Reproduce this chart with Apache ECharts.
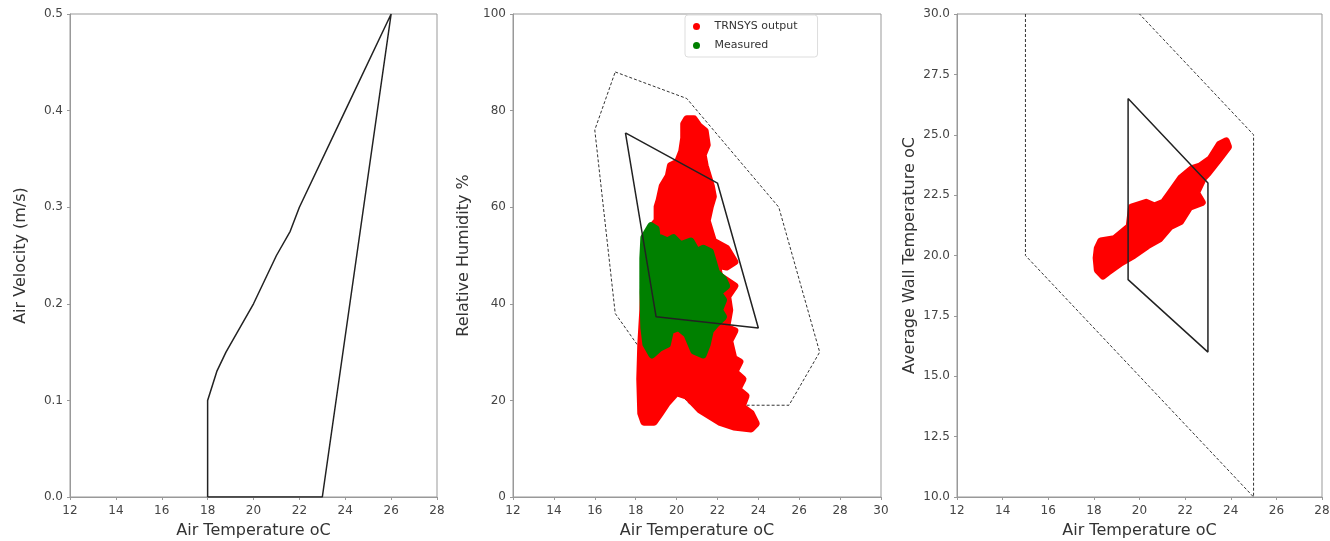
<!DOCTYPE html>
<html>
<head>
<meta charset="utf-8">
<script src="https://cdn.jsdelivr.net/npm/echarts@6/dist/echarts.min.js"></script>
<style>
  html, body { margin: 0; padding: 0; background: #fff; }
  #chart { width: 1330px; height: 541px; }
</style>
</head>
<body>
<div id="chart"></div>
<script>
// panel 1 - air velocity vs air temperature zone
const velZone = [[18, 0], [18, 0.1], [18.4, 0.13], [18.8, 0.15], [20, 0.2], [21, 0.25], [21.6, 0.275], [22, 0.3], [24, 0.4], [26, 0.5], [23, 0], [18, 0]]

// panel 2 - relative humidity vs air temperature
const rhOuter = [[17, 88], [20.5, 82.5], [25, 60], [27, 30], [25.5, 19], [20.7, 19], [18.5, 29], [17, 38], [16, 76], [17, 88]]
const rhInner = [[17.5, 75.4], [22, 65], [24, 35], [19, 37.3], [17.5, 75.4]]
// outline of the dense TRNSYS cloud
const trnsysRh = [[20.35, 77.2], [20.5, 78.3], [20.85, 78.3], [21.1, 76.8], [21.4, 75.8], [21.5, 72.9], [21.3, 70.8], [21.4, 68.6],
  [21.5, 67.2], [21.7, 64.4], [21.8, 62.2], [21.65, 60.1], [21.5, 57.2], [21.7, 54.4], [21.8, 53], [22.45, 51.5], [22.85, 48.7],
  [22.45, 47.6], [22, 48], [22.1, 45.8], [22.85, 43.7], [22.5, 41.5], [22.6, 38.7], [22.45, 35.1], [22.85, 34.4], [22.6, 32.3],
  [22.8, 28.7], [23.1, 28], [22.85, 25.9], [23.25, 24.4], [23, 22.3], [23.4, 20.9], [23.2, 18.7], [23.65, 17.3], [23.9, 15.2],
  [23.65, 14.1], [22.8, 14.5], [22.1, 15.5], [21.15, 18], [20.5, 20.9], [20, 21.6], [19.55, 19.5], [19.2, 17.3], [18.9, 15.5],
  [18.4, 15.5], [18.25, 17.3], [18.2, 24.4], [18.25, 31.6], [18.35, 38.7], [18.4, 45.8], [18.5, 51.5], [18.75, 55.8],
  [19.05, 57.2], [19.05, 60.1], [19.15, 61.5], [19.3, 64.4], [19.6, 66.5], [19.7, 68.6], [20.05, 69.35], [20.25, 71.5], [20.35, 74.3]]
// outline of the measured cloud
const measuredRh = [[18.75, 56.2], [19, 55.5], [19.05, 53.7], [19.2, 53.7], [19.55, 53], [19.85, 53.7], [20.2, 52.2], [20.7, 53],
  [21, 50.8], [21.3, 51.5], [21.65, 50.8], [21.8, 48.7], [21.95, 46.5], [22.3, 45.1], [22.45, 43.7], [22.05, 42.3], [22.3, 40.8],
  [22.1, 38.7], [22.3, 37.3], [21.95, 35.9], [21.65, 34.4], [21.5, 31.6], [21.3, 29.4], [20.85, 30.2], [20.5, 33.7], [20.1, 35.1],
  [19.7, 34.4], [19.55, 31.6], [19.2, 30.9], [18.8, 29.4], [18.5, 31.6], [18.4, 35.1], [18.35, 42.3], [18.35, 49.4], [18.4, 53.7]]

// panel 3 - wall temperature vs air temperature
const wallOuter = [[15, 30], [15, 20], [25, 10], [25, 25], [20, 30]]
const wallInner = [[19.5, 26.5], [19.5, 19], [23, 16], [23, 23], [19.5, 26.5]]
const trnsysWall = [[18.15, 20.3], [18.3, 20.6], [18.9, 20.7], [19.55, 21.2], [19.65, 22.0], [20.3, 22.2], [20.65, 22.05],
  [21.05, 22.2], [21.35, 22.6], [21.8, 23.2], [22.3, 23.6], [22.65, 23.7], [23.1, 24.0], [23.5, 24.6], [23.8, 24.75],
  [23.9, 24.5], [23.5, 24.0], [23.0, 23.4], [22.8, 23.2], [22.5, 22.6], [22.75, 22.2], [22.2, 22.0], [21.8, 21.4],
  [21.35, 21.2], [20.9, 20.7], [20.35, 20.4], [19.75, 20.0], [19.2, 19.7], [18.6, 19.3], [18.4, 19.15], [18.15, 19.4], [18.1, 19.9]]

const FONT = 'DejaVu Sans'

function xAxis(idx, max) {
  return {
    gridIndex: idx,
    type: 'value',
    min: 12,
    max: max,
    interval: 2,
    name: 'Air Temperature oC',
    nameLocation: 'middle',
    nameGap: 26,
    nameTextStyle: { fontFamily: FONT, fontSize: 16, color: '#333' },
    axisLine: { onZero: false, lineStyle: { color: '#999' } },
    axisTick: { length: 3, lineStyle: { color: '#999' } },
    axisLabel: { fontFamily: FONT, fontSize: 12, color: '#444', margin: 8 },
    splitLine: { show: false }
  }
}

function yAxis(idx, opts) {
  return Object.assign({
    gridIndex: idx,
    type: 'value',
    nameLocation: 'middle',
    nameTextStyle: { fontFamily: FONT, fontSize: 16, color: '#333' },
    axisLine: { onZero: false, lineStyle: { color: '#999' } },
    axisTick: { length: 3, lineStyle: { color: '#999' } },
    axisLabel: { fontFamily: FONT, fontSize: 12, color: '#444', margin: 7 },
    splitLine: { show: false }
  }, opts)
}

function lineSeries(idx, data, dashed, z) {
  return {
    type: 'line',
    xAxisIndex: idx,
    yAxisIndex: idx,
    data: data,
    symbol: 'none',
    z: z,
    silent: true,
    lineStyle: dashed
      ? { color: '#333', width: 1, type: [3, 2] }
      : { color: '#222', width: 1.5 }
  }
}

function cloudSeries(idx, name, data, color, z) {
  return {
    type: 'custom',
    name: name,
    xAxisIndex: idx,
    yAxisIndex: idx,
    data: data,
    z: z,
    itemStyle: { color: color },
    renderItem(params, api) {
      if (params.dataIndex !== 0) return null
      const pts = data.map(p => api.coord(p))
      return {
        type: 'polygon',
        shape: { points: pts },
        style: { fill: color, stroke: color, lineWidth: 7, lineJoin: 'round' }
      }
    }
  }
}

const chart = echarts.init(document.getElementById('chart'))
const gridBase = { top: 14, height: 483, show: true, borderColor: '#999', borderWidth: 1, backgroundColor: '#fff', outerBoundsMode: 'none' }

chart.setOption({
  animation: false,
  backgroundColor: '#fff',
  grid: [
    Object.assign({ left: 70, width: 367 }, gridBase),
    Object.assign({ left: 513, width: 368 }, gridBase),
    Object.assign({ left: 957, width: 365 }, gridBase)
  ],
  legend: {
    data: [{ name: 'TRNSYS output', icon: 'circle' }, { name: 'Measured', icon: 'circle' }],
    orient: 'vertical',
    left: 685,
    top: 15,
    itemWidth: 26,
    itemHeight: 7,
    itemGap: 8,
    padding: [6, 20, 6, 8],
    borderColor: '#ddd',
    borderWidth: 1,
    borderRadius: 3,
    backgroundColor: '#fff',
    textStyle: { fontFamily: FONT, fontSize: 11, color: '#333' }
  },
  xAxis: [xAxis(0, 28), xAxis(1, 30), xAxis(2, 28)],
  yAxis: [
    yAxis(0, { min: 0, max: 0.5, interval: 0.1, name: 'Air Velocity (m/s)', nameGap: 41,
      axisLabel: { fontFamily: FONT, fontSize: 12, color: '#444', margin: 7, formatter: v => v.toFixed(1) } }),
    yAxis(1, { min: 0, max: 100, interval: 20, name: 'Relative Humidity %', nameGap: 41 }),
    yAxis(2, { min: 10, max: 30, interval: 2.5, name: 'Average Wall Temperature oC', nameGap: 39,
      axisLabel: { fontFamily: FONT, fontSize: 12, color: '#444', margin: 7, formatter: v => v.toFixed(1) } })
  ],
  series: [
    lineSeries(0, velZone, false, 5),
    lineSeries(1, rhOuter, true, 2),
    cloudSeries(1, 'TRNSYS output', trnsysRh, '#ff0000', 3),
    cloudSeries(1, 'Measured', measuredRh, '#008000', 4),
    lineSeries(1, rhInner, false, 5),
    lineSeries(2, wallOuter, true, 2),
    cloudSeries(2, 'TRNSYS output', trnsysWall, '#ff0000', 3),
    lineSeries(2, wallInner, false, 5)
  ]
})
</script>
</body>
</html>
